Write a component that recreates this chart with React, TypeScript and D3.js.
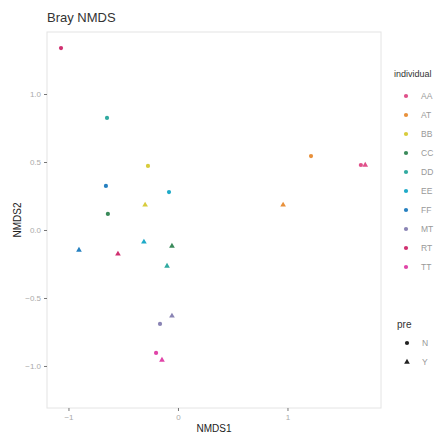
import { useEffect, useRef } from "react";
import * as d3 from "d3";

const individuals = ["AA", "AT", "BB", "CC", "DD", "EE", "FF", "MT", "RT", "TT"];
const colors = ["#e0508a", "#e8903a", "#d8cc3c", "#3a8a5a", "#30aaa0", "#1eaac8", "#2680c0", "#8a84b4", "#d03070", "#e044a8"];
const preLevels = ["N", "Y"];

// one row per sample: individual, pre, NMDS1, NMDS2
const sampleInd = ["AA", "AA", "AT", "AT", "BB", "BB", "CC", "CC", "DD", "DD", "EE", "EE", "FF", "FF", "MT", "MT", "RT", "RT", "TT", "TT"];
const samplePre = ["N", "Y", "N", "Y", "N", "Y", "N", "Y", "N", "Y", "N", "Y", "N", "Y", "N", "Y", "N", "Y", "N", "Y"];
const nmds1 = [1.67, 1.71, 1.215, 0.96, -0.274, -0.3, -0.64, -0.055, -0.648, -0.1, -0.082, -0.311, -0.658, -0.904, -0.164, -0.055, -1.068, -0.548, -0.2, -0.146];
const nmds2 = [0.478, 0.478, 0.544, 0.184, 0.471, 0.184, 0.118, -0.118, 0.824, -0.265, 0.279, -0.088, 0.324, -0.147, -0.691, -0.632, 1.338, -0.176, -0.904, -0.956];

const xTicks = [-1, 0, 1];
const yTicks = [-1, -0.5, 0, 0.5, 1];

function App() {
  const ref = useRef<SVGSVGElement>(null);

  useEffect(() => {
    const svg = d3.select(ref.current);
    svg.selectAll("*").remove();

    const left = 47, right = 381, top = 32, bottom = 408;
    const x = d3.scaleLinear([-1.196, 1.854], [left, right]);
    const y = d3.scaleLinear([-1.309, 1.456], [bottom, top]);
    const color = d3.scaleOrdinal<string, string>(individuals, colors);
    const shape = d3.scaleOrdinal<string, d3.SymbolType>(preLevels, [d3.symbolCircle, d3.symbolTriangle]);

    const font = "Liberation Sans, Arial, sans-serif";

    svg.append("rect")
      .attr("x", left).attr("y", top)
      .attr("width", right - left).attr("height", bottom - top)
      .attr("fill", "white")
      .attr("stroke", "#e4e4e4")
      .attr("stroke-width", 1);

    // axes
    const xAxis = svg.append("g")
      .attr("transform", `translate(0,${bottom})`)
      .call(d3.axisBottom(x).tickValues(xTicks).tickSize(3).tickFormat(d3.format("d")));
    const yAxis = svg.append("g")
      .attr("transform", `translate(${left},0)`)
      .call(d3.axisLeft(y).tickValues(yTicks).tickSize(3).tickFormat(d3.format(".1f")));
    [xAxis, yAxis].forEach(a => {
      a.select(".domain").remove();
      a.selectAll("line").attr("stroke", "#777");
      a.selectAll("text")
        .attr("fill", "#aaa")
        .attr("font-size", 8)
        .attr("font-family", font);
    });

    const data = sampleInd.map((ind, i) => ({ ind, pre: samplePre[i], x: nmds1[i], y: nmds2[i] }));

    svg.append("g")
      .selectAll("path")
      .data(data)
      .join("path")
      .attr("transform", d => `translate(${x(d.x)},${y(d.y)})`)
      .attr("d", d => d3.symbol(shape(d.pre), 14)())
      .attr("fill", d => color(d.ind));

    // titles
    svg.append("text")
      .attr("x", left).attr("y", 22)
      .attr("font-size", 13)
      .attr("font-family", font)
      .attr("fill", "#333")
      .text("Bray NMDS");

    svg.append("text")
      .attr("x", (left + right) / 2).attr("y", 432)
      .attr("text-anchor", "middle")
      .attr("font-size", 10)
      .attr("font-family", font)
      .attr("fill", "#222")
      .text("NMDS1");

    svg.append("text")
      .attr("transform", `translate(21,${(top + bottom) / 2}) rotate(-90)`)
      .attr("text-anchor", "middle")
      .attr("font-size", 10)
      .attr("font-family", font)
      .attr("fill", "#222")
      .text("NMDS2");

    // legends
    const leg = svg.append("g").attr("font-family", font);
    leg.append("text")
      .attr("x", 394).attr("y", 77)
      .attr("font-size", 9)
      .attr("fill", "#333")
      .text("individual");
    individuals.forEach((ind, i) => {
      const cy = 96 + i * 19;
      leg.append("path")
        .attr("transform", `translate(406,${cy})`)
        .attr("d", d3.symbol(d3.symbolCircle, 14)())
        .attr("fill", color(ind));
      leg.append("text")
        .attr("x", 421).attr("y", cy + 3)
        .attr("font-size", 8.5)
        .attr("fill", "#999")
        .text(ind);
    });

    leg.append("text")
      .attr("x", 397).attr("y", 328)
      .attr("font-size", 10)
      .attr("fill", "#333")
      .text("pre");
    preLevels.forEach((p, i) => {
      const cy = 343 + i * 19;
      leg.append("path")
        .attr("transform", `translate(407,${cy})`)
        .attr("d", d3.symbol(shape(p), 14)())
        .attr("fill", "#222");
      leg.append("text")
        .attr("x", 422).attr("y", cy + 3)
        .attr("font-size", 8.5)
        .attr("fill", "#999")
        .text(p);
    });
  }, []);

  return (
    <svg ref={ref} width={435} height={434}
      style={{ position: "absolute", left: 0, top: 0, background: "white" }} />
  );
}

export default App;
